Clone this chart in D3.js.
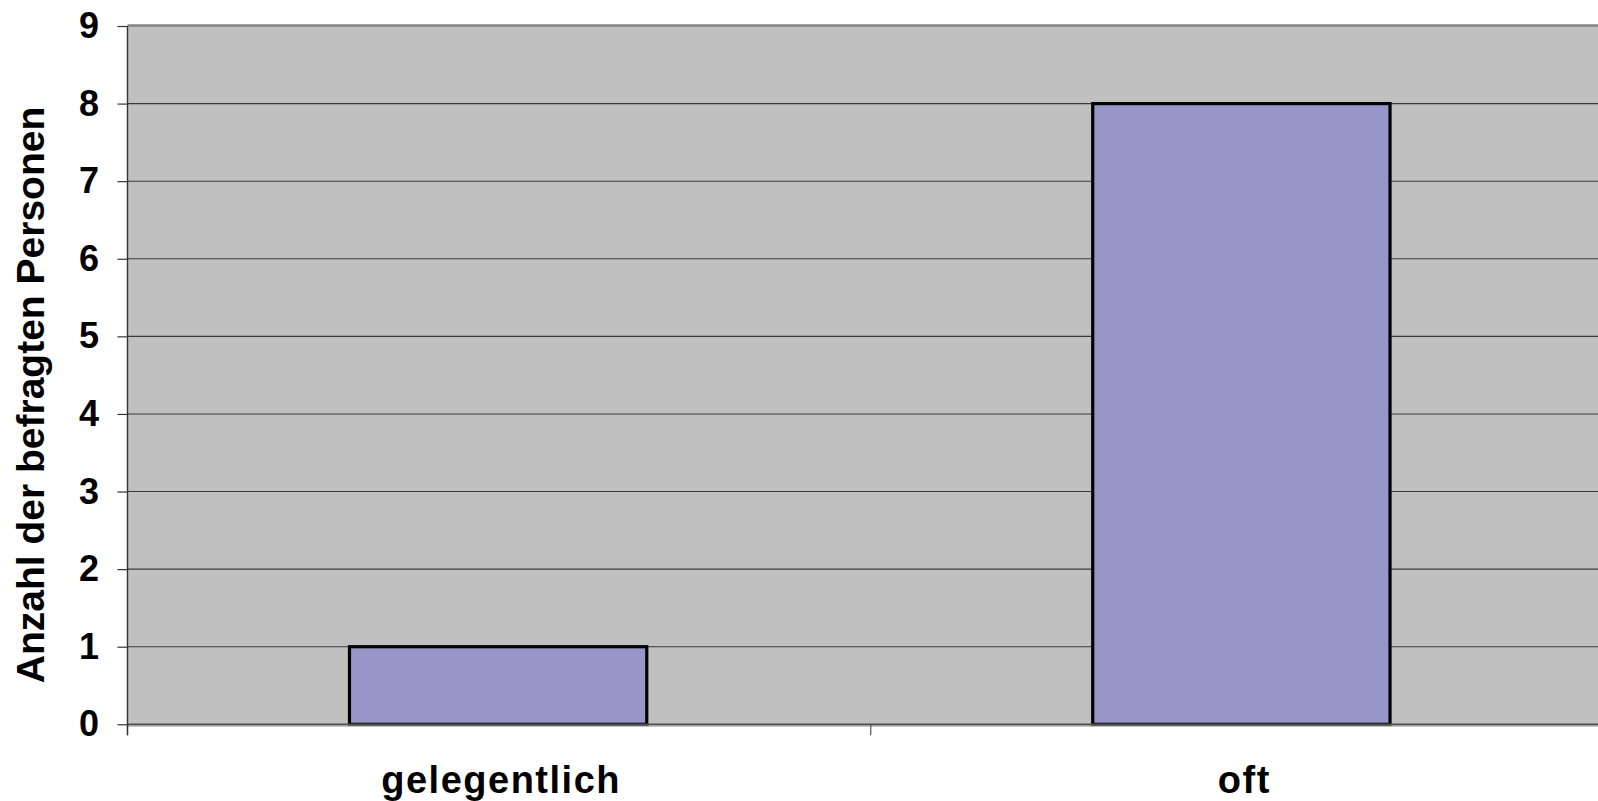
<!DOCTYPE html>
<html>
<head>
<meta charset="utf-8">
<script src="https://cdn.jsdelivr.net/npm/d3@7"></script>
<style>
  html, body { margin: 0; padding: 0; background: #fff; overflow: hidden; }
  svg { display: block; }
  text { font-family: "Liberation Sans", Arial, sans-serif; font-weight: bold; fill: #000; }
</style>
</head>
<body>
<svg id="chart" width="1598" height="801"></svg>
<script>
// Survey answers: how often, and how many respondents
const categories = ["gelegentlich", "oft"];
const counts = [1, 8];
const yTicks = [0, 1, 2, 3, 4, 5, 6, 7, 8, 9];
const yTitle = "Anzahl der befragten Personen";

const svg = d3.select("#chart");

// Plot area (the right side runs past the edge of the page)
const plotLeft = 127.5, plotRight = 1614, plotTop = 26, plotBottom = 724.3;

const x = d3.scaleBand()
  .domain(categories)
  .range([plotLeft, plotRight])
  .paddingInner(0.6)
  .paddingOuter(0.3);

const y = d3.scaleLinear()
  .domain([0, 9])
  .range([plotBottom, plotTop]);

// Grey plot background
svg.append("rect")
  .attr("x", plotLeft).attr("y", plotTop)
  .attr("width", plotRight - plotLeft).attr("height", plotBottom - plotTop)
  .attr("fill", "#c0c0c0");

// Horizontal gridlines
svg.append("g")
  .selectAll("line")
  .data(yTicks.filter(t => t > 0 && t < 9))
  .join("line")
  .attr("x1", plotLeft).attr("x2", plotRight)
  .attr("y1", d => y(d)).attr("y2", d => y(d))
  .attr("stroke", "#3a3a3a")
  .attr("stroke-width", 1.1);

// Top border of the plot area
svg.append("line")
  .attr("x1", plotLeft).attr("x2", plotRight)
  .attr("y1", y(9) - 0.5).attr("y2", y(9) - 0.5)
  .attr("stroke", "#858585").attr("stroke-width", 2.5);

// Bars
svg.append("g")
  .selectAll("rect")
  .data(categories.map((c, i) => ({ c, v: counts[i] })))
  .join("rect")
  .attr("x", d => x(d.c) - 1)
  .attr("y", d => y(d.v))
  .attr("width", x.bandwidth())
  .attr("height", d => y(0) - y(d.v))
  .attr("fill", "#9696c8")
  .attr("stroke", "#000")
  .attr("stroke-width", 3.2);

// Baseline (category axis)
svg.append("line")
  .attr("x1", plotLeft).attr("x2", plotRight)
  .attr("y1", y(0) + 0.3).attr("y2", y(0) + 0.3)
  .attr("stroke", "#505050").attr("stroke-width", 2);
svg.append("line")
  .attr("x1", plotLeft).attr("x2", plotRight)
  .attr("y1", y(0) + 1.8).attr("y2", y(0) + 1.8)
  .attr("stroke", "#9a9a9a").attr("stroke-width", 1);

// Tick marks between categories on the category axis
const step = x.step();
const boundaries = categories.map(c => x(c) - step * x.paddingOuter());
boundaries.push(x(categories[categories.length - 1]) + x.bandwidth() + step * x.paddingOuter());
svg.append("g")
  .selectAll("line")
  .data(boundaries)
  .join("line")
  .attr("x1", d => d).attr("x2", d => d)
  .attr("y1", y(0)).attr("y2", y(0) + 11)
  .attr("stroke", "#555").attr("stroke-width", 1.2);

// Value axis
const yAxis = d3.axisLeft(y)
  .tickValues(yTicks)
  .tickFormat(d3.format("d"))
  .tickSize(10)
  .tickPadding(18.5);

const gy = svg.append("g")
  .attr("transform", `translate(${plotLeft},0)`)
  .call(yAxis);
gy.select(".domain").remove();
gy.selectAll(".tick line").attr("stroke", "#333").attr("stroke-width", 1.2);
gy.selectAll(".tick text")
  .attr("font-size", 36)
  .attr("font-family", "'Liberation Sans', Arial, sans-serif")
  .attr("font-weight", "bold")
  .attr("fill", "#000");

svg.append("line")
  .attr("x1", plotLeft).attr("x2", plotLeft)
  .attr("y1", plotTop).attr("y2", y(0) + 11)
  .attr("stroke", "#333").attr("stroke-width", 1.4);

// Category labels
svg.append("g")
  .selectAll("text")
  .data(categories)
  .join("text")
  .attr("x", d => x(d) + x.bandwidth() / 2 + 2)
  .attr("y", 793)
  .attr("text-anchor", "middle")
  .attr("font-size", 38)
  .attr("letter-spacing", 1.5)
  .text(d => d);

// Value axis title
svg.append("text")
  .attr("transform", "translate(44,395) rotate(-90)")
  .attr("text-anchor", "middle")
  .attr("font-size", 39)
  .text(yTitle);
</script>
</body>
</html>
